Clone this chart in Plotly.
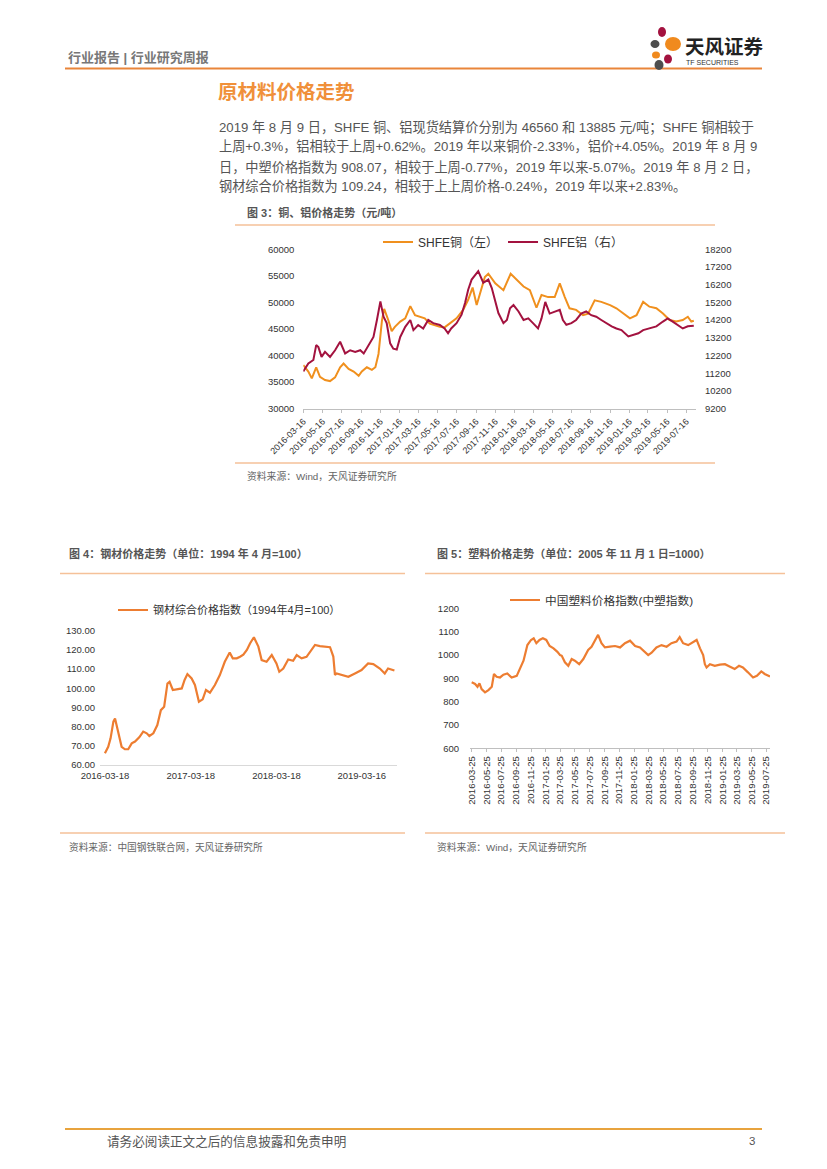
import plotly.graph_objects as go

W, H = 827, 1169
OFF = 8  # the page body adds an 8px margin around the figure
def X(px): return (px - OFF) / W
def Y(py): return 1 - (py - OFF) / H

FONT = "Liberation Sans, Noto Sans CJK SC, sans-serif"
GRAY = "#595959"
ORANGE_LINE = "#E9853A"

# ---------------- data: Fig 3 copper / aluminium ----------------
copper_dates = ["2016-03-16","2016-04-01","2016-04-12","2016-04-26","2016-05-08","2016-05-24","2016-06-09","2016-06-25",
 "2016-07-11","2016-07-22","2016-08-07","2016-08-23","2016-09-08","2016-09-18","2016-10-04","2016-10-20","2016-10-31",
 "2016-11-10","2016-11-21","2016-11-28","2016-12-11","2016-12-22","2017-01-01","2017-01-18","2017-02-03","2017-02-19",
 "2017-03-06","2017-03-21","2017-04-06","2017-04-22","2017-05-08","2017-05-24","2017-06-08","2017-06-24","2017-07-16",
 "2017-08-06","2017-08-22","2017-09-05","2017-09-18","2017-10-14","2017-10-25","2017-11-16","2017-12-12","2018-01-04",
 "2018-01-24","2018-02-14","2018-03-06","2018-03-27","2018-04-12","2018-05-03","2018-05-24","2018-06-09","2018-06-25",
 "2018-07-10","2018-07-31","2018-08-22","2018-09-07","2018-09-28","2018-10-19","2018-11-16","2018-12-06","2018-12-27",
 "2019-01-18","2019-02-08","2019-03-01","2019-03-21","2019-04-12","2019-05-03","2019-05-24","2019-06-14","2019-07-05",
 "2019-07-21","2019-08-01","2019-08-09"]
copper_vals = [38200,37000,35700,37800,36000,35400,35200,35900,
 37800,38500,37500,37000,36200,37000,37800,37300,37800,
 40300,46600,48800,46700,44600,45400,46400,47000,49300,
 47600,47300,47000,46000,45700,45400,45300,46000,47000,
 48600,50500,52800,49500,54800,55400,53600,52300,55400,
 54200,53000,52300,49000,51400,51000,51000,53600,51000,
 48900,48600,47600,47900,50400,50100,49500,48900,47900,
 47000,47600,50100,49200,48900,47900,46700,46400,46700,
 47300,46400,46560]

alu_dates = ["2016-03-16","2016-04-01","2016-04-17","2016-04-26","2016-05-03","2016-05-13","2016-05-24","2016-06-09",
 "2016-06-25","2016-07-11","2016-07-27","2016-08-12","2016-08-28","2016-09-13","2016-09-24","2016-10-09","2016-10-25",
 "2016-11-05","2016-11-16","2016-11-26","2016-12-06","2016-12-17","2016-12-27","2017-01-07","2017-01-18","2017-02-03",
 "2017-02-19","2017-03-01","2017-03-16","2017-04-01","2017-04-17","2017-05-03","2017-05-24","2017-06-08","2017-06-19",
 "2017-06-29","2017-07-16","2017-08-01","2017-08-12","2017-08-22","2017-09-02","2017-09-23","2017-10-09","2017-10-25",
 "2017-11-05","2017-11-26","2017-12-12","2017-12-23","2018-01-02","2018-01-13","2018-01-29","2018-02-14","2018-03-01",
 "2018-03-16","2018-04-01","2018-04-12","2018-04-24","2018-05-08","2018-05-24","2018-06-09","2018-06-19","2018-06-30",
 "2018-07-16","2018-07-31","2018-08-16","2018-09-01","2018-09-17","2018-10-03","2018-10-19","2018-11-04","2018-11-21",
 "2018-12-06","2018-12-22","2019-01-13","2019-01-29","2019-02-14","2019-03-01","2019-03-21","2019-04-12","2019-05-03",
 "2019-05-18","2019-06-03","2019-06-19","2019-07-05","2019-07-21","2019-08-09"]
alu_vals = [11300,11750,11950,12790,12680,12125,12410,12125,
 12500,12980,12320,12500,12410,12500,12320,12790,13250,
 14210,15260,14390,14030,12890,12590,12545,13250,13820,
 14210,13640,13925,13730,14210,14030,13925,13730,13460,
 13730,14030,14510,15170,15920,16490,16970,16310,16490,
 16010,14600,14030,14210,14870,15050,14690,14210,14300,
 14030,13730,14300,15230,14570,14690,14780,14210,13940,
 14030,14210,14570,14690,14480,14390,14210,14030,13850,
 13730,13640,13280,13370,13460,13640,13730,13850,14120,
 14300,14120,13940,13730,13850,13885]

fig3_ticks = ["2016-03-16","2016-05-16","2016-07-16","2016-09-16","2016-11-16","2017-01-16","2017-03-16",
 "2017-05-16","2017-07-16","2017-09-16","2017-11-16","2018-01-16","2018-03-16","2018-05-16","2018-07-16",
 "2018-09-16","2018-11-16","2019-01-16","2019-03-16","2019-05-16","2019-07-16"]
fig3_left_ticks = [30000, 35000, 40000, 45000, 50000, 55000, 60000]
fig3_right_ticks = [9200, 10200, 11200, 12200, 13200, 14200, 15200, 16200, 17200, 18200]

# ---------------- data: Fig 4 steel index ----------------
steel_dates = ["2016-03-18","2016-04-01","2016-04-11","2016-04-23","2016-04-30","2016-05-14","2016-05-28","2016-06-11",
 "2016-06-25","2016-07-10","2016-07-24","2016-08-11","2016-08-28","2016-09-12","2016-09-23","2016-10-10","2016-10-27",
 "2016-11-11","2016-11-25","2016-12-09","2016-12-18","2017-01-01","2017-01-18","2017-02-08","2017-02-20","2017-03-04",
 "2017-03-22","2017-04-05","2017-04-22","2017-05-08","2017-05-22","2017-06-08","2017-06-29","2017-07-20","2017-08-10",
 "2017-08-31","2017-09-13","2017-09-30","2017-10-14","2017-10-28","2017-11-12","2017-11-26","2017-12-12","2017-12-31",
 "2018-01-14","2018-02-04","2018-02-26","2018-03-18","2018-03-30","2018-04-16","2018-05-07","2018-05-28","2018-06-12",
 "2018-07-03","2018-07-24","2018-08-07","2018-08-29","2018-09-19","2018-10-10","2018-11-01","2018-11-15","2018-11-22",
 "2018-11-29","2018-12-20","2019-01-18","2019-02-15","2019-03-15","2019-04-12","2019-05-04","2019-06-01","2019-06-22",
 "2019-07-06","2019-08-02"]
steel_vals = [66.1,69.5,73.9,82.6,84.3,76.5,69.5,68.2,
 68.2,71.3,72.2,74.4,77.4,76.5,75.1,76.5,80.8,
 88.6,90.4,102.5,103.4,99.1,99.4,99.9,104.3,107.4,
 105.1,101.7,93.0,94.2,99.1,97.7,101.7,106.9,113.8,
 118.6,115.6,115.6,116.4,117.5,120.0,123.5,126.6,121.7,
 114.7,113.8,117.3,112.9,108.6,110.3,115.0,114.3,117.3,
 115.6,116.4,119.0,122.6,122.0,121.7,121.4,116.5,106.9,
 107.7,106.9,106.0,107.7,109.5,112.9,112.6,110.3,107.7,
 110.3,109.24]
steel_ticks = ["2016-03-18","2017-03-18","2018-03-18","2019-03-16"]

# ---------------- data: Fig 5 plastics index ----------------
plastic_dates = ["2016-03-25","2016-04-08","2016-04-18","2016-04-26","2016-05-05","2016-05-19","2016-06-02","2016-06-16",
 "2016-06-25","2016-07-06","2016-07-20","2016-08-03","2016-08-19","2016-09-06","2016-09-27","2016-10-11","2016-10-25",
 "2016-11-05","2016-11-10","2016-11-25","2016-12-06","2016-12-17","2016-12-30","2017-01-13","2017-01-27","2017-02-10",
 "2017-02-26","2017-03-14","2017-03-25","2017-04-01","2017-04-14","2017-04-28","2017-05-12","2017-05-25","2017-06-12",
 "2017-06-29","2017-07-12","2017-07-19","2017-08-02","2017-08-16","2017-08-29","2017-09-12","2017-09-26","2017-10-17",
 "2017-11-07","2017-11-28","2017-12-18","2018-01-08","2018-01-29","2018-02-18","2018-03-10","2018-03-24","2018-04-07",
 "2018-04-27","2018-05-18","2018-06-08","2018-06-28","2018-07-19","2018-08-01","2018-08-15","2018-09-05","2018-09-26",
 "2018-10-10","2018-10-24","2018-11-06","2018-11-13","2018-11-20","2018-12-04","2018-12-24","2019-01-14","2019-02-04",
 "2019-02-25","2019-03-16","2019-04-03","2019-04-19","2019-05-10","2019-05-31","2019-06-16","2019-07-04","2019-07-18",
 "2019-08-01","2019-08-09"]
plastic_vals = [883,876,864,879,854,840,850,864,
 919,907,904,916,921,904,911,947,976,
 1022,1043,1065,1072,1051,1065,1072,1065,1039,
 1029,1014,1000,997,969,954,983,976,961,
 983,1011,1022,1036,1065,1087,1051,1033,1036,
 1039,1033,1051,1062,1039,1033,1014,1000,1010,
 1033,1043,1036,1051,1058,1077,1051,1043,1058,
 1065,1029,1000,961,947,961,954,959,961,
 950,940,954,947,926,904,911,930,919,
 912,908.07]
plastic_ticks = ["2016-03-25","2016-05-25","2016-07-25","2016-09-25","2016-11-25","2017-01-25","2017-03-25",
 "2017-05-25","2017-07-25","2017-09-25","2017-11-25","2018-01-25","2018-03-25","2018-05-25","2018-07-25",
 "2018-09-25","2018-11-25","2019-01-25","2019-03-25","2019-05-25","2019-07-25"]

# ---------------- figure ----------------
fig = go.Figure()
fig.add_trace(go.Scatter(x=copper_dates, y=copper_vals, mode="lines", name="SHFE铜（左）",
                         line=dict(color="#F0901E", width=2), xaxis="x", yaxis="y", legend="legend"))
fig.add_trace(go.Scatter(x=alu_dates, y=alu_vals, mode="lines", name="SHFE铝（右）",
                         line=dict(color="#A3123F", width=2), xaxis="x", yaxis="y2", legend="legend"))
fig.add_trace(go.Scatter(x=steel_dates, y=steel_vals, mode="lines", name="钢材综合价格指数（1994年4月=100）",
                         line=dict(color="#ED7D31", width=2.2), xaxis="x3", yaxis="y3", legend="legend2"))
fig.add_trace(go.Scatter(x=plastic_dates, y=plastic_vals, mode="lines", name="中国塑料价格指数(中塑指数)",
                         line=dict(color="#ED7D31", width=2.2), xaxis="x4", yaxis="y4", legend="legend3"))

tickfont = dict(family=FONT, size=9.5, color="#333333")
common = dict(showgrid=False, zeroline=False, automargin=False)

fig.update_layout(
    width=W, height=H, margin=dict(l=0, r=0, t=0, b=0, pad=0, autoexpand=False),
    paper_bgcolor="white", plot_bgcolor="rgba(0,0,0,0)",
    font=dict(family=FONT, color="#333333"),
    xaxis=dict(domain=[X(303.3), X(696)], anchor="y", type="date", range=["2016-03-16", "2019-08-16"],
               tickmode="array", tickvals=fig3_ticks, ticktext=fig3_ticks, tickangle=-45,
               tickfont=dict(family=FONT, size=9, color="#333333"),
               showline=True, linecolor="#BFBFBF", linewidth=1, ticks="outside", ticklen=3, tickcolor="#BFBFBF",
               **common),
    yaxis=dict(domain=[Y(408.7), Y(249.3)], anchor="x", range=[30000, 60000], tickmode="array",
               tickvals=fig3_left_ticks, ticktext=[str(v) for v in fig3_left_ticks],
               tickfont=tickfont, showline=False, ticks="", ticklabelstandoff=8, **common),
    yaxis2=dict(overlaying="y", side="right", anchor="x", range=[9200, 18200], tickmode="array",
                tickvals=fig3_right_ticks, ticktext=[str(v) for v in fig3_right_ticks], tickfont=tickfont,
                showline=False, ticks="", ticklabelstandoff=8, **common),
    xaxis3=dict(domain=[X(100), X(397)], anchor="y3", type="date", range=["2016-02-26", "2019-08-13"],
                tickmode="array", tickvals=steel_ticks, ticktext=steel_ticks, tickangle=0,
                tickfont=tickfont, showline=True, linecolor="#D9D9D9",
                ticks="", ticklabelstandoff=2, **common),
    yaxis3=dict(domain=[Y(765), Y(630.7)], anchor="x3", range=[60, 130], dtick=10, tickformat=".2f",
                tickfont=tickfont, showline=False, ticks="", ticklabelstandoff=4, **common),
    xaxis4=dict(domain=[X(470), X(770)], anchor="y4", type="date", range=["2016-03-18", "2019-08-09"],
                tickmode="array", tickvals=plastic_ticks, ticktext=plastic_ticks, tickangle=-90,
                tickfont=tickfont, showline=True, linecolor="#BFBFBF",
                ticks="outside", ticklen=3, tickcolor="#BFBFBF", **common),
    yaxis4=dict(domain=[Y(748.3), Y(608.5)], anchor="x4", range=[600, 1200], dtick=100, tickformat="d",
                tickfont=tickfont, showline=False, ticks="", ticklabelstandoff=10, **common),
    legend=dict(x=X(378), y=Y(242), xanchor="left", yanchor="middle", orientation="h",
                font=dict(family=FONT, size=12, color="#333333"), bgcolor="rgba(0,0,0,0)",
                itemwidth=30, tracegroupgap=0),
    legend2=dict(x=X(113), y=Y(610), xanchor="left", yanchor="middle", orientation="h",
                 font=dict(family=FONT, size=11, color="#333333"), bgcolor="rgba(0,0,0,0)", itemwidth=30),
    legend3=dict(x=X(505), y=Y(600), xanchor="left", yanchor="middle", orientation="h",
                 font=dict(family=FONT, size=11.7, color="#333333"), bgcolor="rgba(0,0,0,0)", itemwidth=30),
)

# ---------------- page decoration ----------------
shapes = []
def hline(x0, x1, y, color, width):
    shapes.append(dict(type="line", xref="paper", yref="paper", x0=X(x0), x1=X(x1), y0=Y(y), y1=Y(y),
                       line=dict(color=color, width=width)))

hline(65, 762, 68.5, ORANGE_LINE, 2)          # header rule
hline(235, 715, 225, "#F5C199", 1.5)          # fig 3 top
hline(235, 715, 463, "#F5C199", 1.5)          # fig 3 bottom
hline(60, 405, 573.5, "#F5C199", 1.5)         # fig 4 top
hline(425, 785, 573.5, "#F5C199", 1.5)        # fig 5 top
hline(60, 405, 833, "#F5C199", 1.5)           # fig 4 bottom
hline(425, 785, 833, "#F5C199", 1.5)          # fig 5 bottom
hline(65, 762, 1129, "#E8A33D", 2)            # footer rule

# logo petals
def petal(cx, cy, rx, ry, color):
    shapes.append(dict(type="circle", xref="paper", yref="paper",
                       x0=X(cx - rx), x1=X(cx + rx), y0=Y(cy + ry), y1=Y(cy - ry),
                       fillcolor=color, line=dict(width=0)))
petal(662, 32, 4, 5, "#A3123F")
petal(655, 44, 4.5, 4, "#4D4D4D")
petal(673, 44, 8, 7, "#F08A1E")
petal(656, 55, 4, 3.5, "#F08A1E")
petal(668, 59, 4, 4.5, "#A3123F")
petal(659, 65, 4.5, 5, "#4D4D4D")
fig.update_layout(shapes=shapes)

ann = []
def text(x, y, s, size, color=GRAY, bold=False, anchor="left", family=FONT):
    ann.append(dict(x=X(x), y=Y(y), xref="paper", yref="paper", text=("<b>%s</b>" % s) if bold else s,
                    showarrow=False, xanchor=anchor, yanchor="middle",
                    font=dict(family=family, size=size, color=color)))

text(66, 57, "行业报告 | 行业研究周报", 13, "#777777", bold=True)
text(683, 47, "天风证券", 19.5, "#222222", bold=True)
text(684, 63, "TF SECURITIES", 7, "#333333")
text(216, 92, "原材料价格走势", 19.5, "#F0903A", bold=True)

para = [
    "2019 年 8 月 9 日，SHFE 铜、铝现货结算价分别为 46560 和 13885 元/吨；SHFE 铜相较于",
    "上周+0.3%，铝相较于上周+0.62%。2019 年以来铜价-2.33%，铝价+4.05%。2019 年 8 月 9",
    "日，中塑价格指数为 908.07，相较于上周-0.77%，2019 年以来-5.07%。2019 年 8 月 2 日，",
    "钢材综合价格指数为 109.24，相较于上上周价格-0.24%，2019 年以来+2.83%。",
]
for i, line in enumerate(para):
    text(217, 127 + 20 * i, line, 13.2, "#555555")

text(245, 213, "图 3：铜、铝价格走势（元/吨）", 11, "#555555", bold=True)
text(245, 476, "资料来源：Wind，天风证券研究所", 9.8, "#666666")
text(67, 553, "图 4：钢材价格走势（单位：1994 年 4 月=100）", 11, "#555555", bold=True)
text(435, 553, "图 5：塑料价格走势（单位：2005 年 11 月 1 日=1000）", 11, "#555555", bold=True)
text(67, 847, "资料来源：中国钢铁联合网，天风证券研究所", 9.7, "#666666")
text(435, 847, "资料来源：Wind，天风证券研究所", 9.8, "#666666")
text(105, 1141, "请务必阅读正文之后的信息披露和免责申明", 12.6, "#555555")
text(757, 1141, "3", 11.5, "#555555", anchor="right")
fig.update_layout(annotations=ann)

fig.write_html("out.html")
